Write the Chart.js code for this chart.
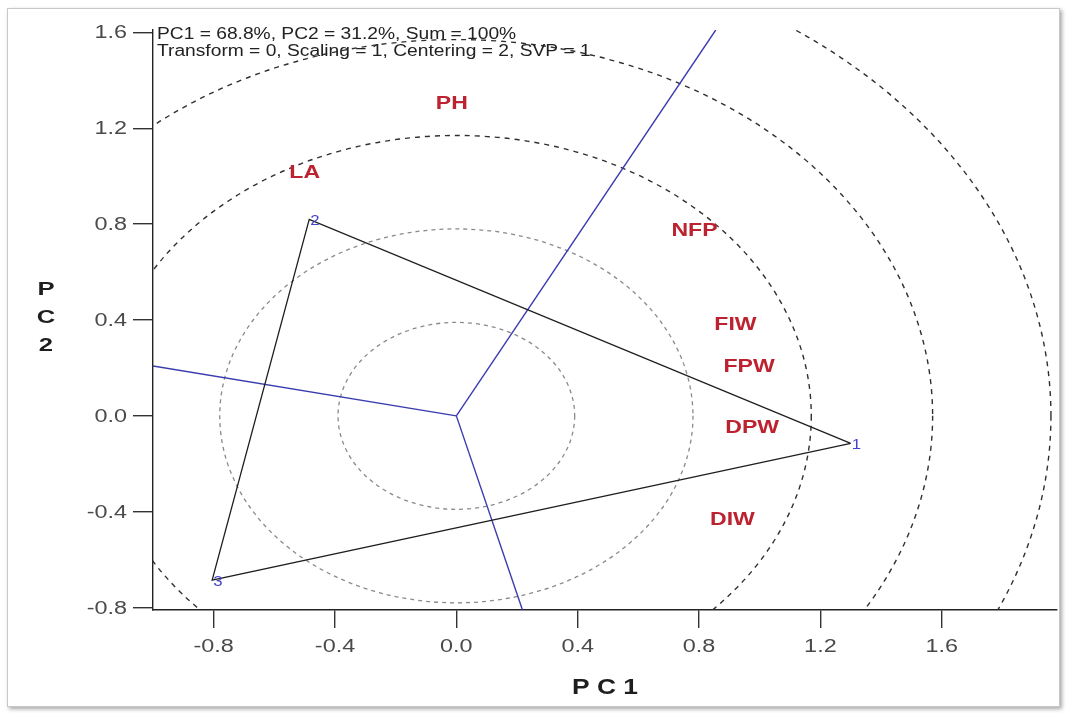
<!DOCTYPE html>
<html>
<head>
<meta charset="utf-8">
<script src="https://cdn.jsdelivr.net/npm/chart.js@4"></script>
<style>
  html, body { margin: 0; padding: 0; background: #fff; }
  #wrap { position: relative; width: 1068px; height: 713px; }
  #frame {
    position: absolute; left: 7px; top: 8px; width: 1051px; height: 697px;
    border: 1px solid #c8c8c8; box-shadow: 2px 2px 4px rgba(0,0,0,0.35);
    pointer-events: none;
  }
</style>
</head>
<body>
<div id="wrap">
  <canvas id="biplot"></canvas>
  <div id="frame"></div>
</div>
<script>
// genotype (polygon vertex) scores
const genotypes = ['1', '2', '3'];
const genoPC1 = [1.30, -0.485, -0.805];
const genoPC2 = [-0.115, 0.82, -0.685];

// trait scores
const traits = ['PH', 'LA', 'NFP', 'FIW', 'FPW', 'DPW', 'DIW'];
const traitPC1 = [-0.015, -0.50, 0.785, 0.92, 0.965, 0.975, 0.91];
const traitPC2 = [1.30, 1.015, 0.77, 0.38, 0.205, -0.05, -0.435];

// rays from origin, perpendicular to polygon sides (end points)
const rayPC1 = [0.855, -1.0, 0.218];
const rayPC2 = [1.61, 0.208, -0.81];

// concentric circles
const grayRadii = [0.39, 0.78];
const blackRadii = [1.17, 1.57, 1.96];

const xTicks = [-0.8, -0.4, 0.0, 0.4, 0.8, 1.2, 1.6];
const yTicks = [-0.8, -0.4, 0.0, 0.4, 0.8, 1.2, 1.6];

const infoLines = [
  'PC1 = 68.8%, PC2 = 31.2%, Sum = 100%',
  'Transform = 0, Scaling = 1, Centering = 2, SVP = 1'
];

const FONT = 'Arial, "Liberation Sans", sans-serif';

// text drawn wider than normal, like the stretched original picture
function wideText(ctx, s, x, y, sx, align) {
  ctx.save();
  ctx.translate(x, y);
  ctx.scale(sx, 1);
  ctx.textAlign = align;
  ctx.fillText(s, 0, 0);
  ctx.restore();
}

const polygon = genotypes.map((g, i) => ({ x: genoPC1[i], y: genoPC2[i] }));
polygon.push(polygon[0]);

const rayDatasets = rayPC1.map((x, i) => ({
  data: [{ x: 0, y: 0 }, { x: x, y: rayPC2[i] }],
  showLine: true,
  borderColor: '#3b3bb0',
  borderWidth: 1.4,
  pointRadius: 0
}));

// circles, labels, axis titles
const extras = {
  id: 'extras',
  beforeDatasetsDraw(chart) {
    const ctx = chart.ctx;
    const xs = chart.scales.x, ys = chart.scales.y;
    const a = chart.chartArea;
    const cx = xs.getPixelForValue(0), cy = ys.getPixelForValue(0);
    const kx = xs.getPixelForValue(1) - cx;
    const ky = cy - ys.getPixelForValue(1);
    ctx.save();
    ctx.beginPath();
    ctx.rect(a.left, a.top, a.right - a.left, a.bottom - a.top);
    ctx.clip();
    ctx.lineWidth = 1.3;
    ctx.strokeStyle = '#8a8a8a';
    ctx.setLineDash([4, 4]);
    grayRadii.forEach(r => {
      ctx.beginPath();
      ctx.ellipse(cx, cy, r * kx, r * ky, 0, 0, Math.PI * 2);
      ctx.stroke();
    });
    ctx.strokeStyle = '#303030';
    ctx.lineWidth = 1.4;
    ctx.setLineDash([5, 5]);
    blackRadii.forEach(r => {
      ctx.beginPath();
      ctx.ellipse(cx, cy, r * kx, r * ky, 0, 0, Math.PI * 2);
      ctx.stroke();
    });
    ctx.restore();
  },
  afterDatasetsDraw(chart) {
    const ctx = chart.ctx;
    const xs = chart.scales.x, ys = chart.scales.y;
    const a = chart.chartArea;
    ctx.save();
    ctx.textBaseline = 'middle';
    // tick labels
    ctx.fillStyle = '#4a4a4a';
    ctx.font = '18px ' + FONT;
    xTicks.forEach(v => wideText(ctx, v.toFixed(1), xs.getPixelForValue(v), 647, 1.3, 'center'));
    yTicks.forEach(v => {
      const s = v.toFixed(1);
      const w = ctx.measureText(s).width * 1.3;
      wideText(ctx, s, 127 - w, ys.getPixelForValue(v) + 1, 1.3, 'left');
    });
    // trait labels
    ctx.fillStyle = '#bd2230';
    ctx.font = 'bold 18px ' + FONT;
    traits.forEach((t, i) => {
      wideText(ctx, t, xs.getPixelForValue(traitPC1[i]), ys.getPixelForValue(traitPC2[i]), 1.28, 'center');
    });
    // genotype numbers
    ctx.fillStyle = '#4343cc';
    ctx.font = '14px ' + FONT;
    genotypes.forEach((g, i) => {
      wideText(ctx, g, xs.getPixelForValue(genoPC1[i]) + 1, ys.getPixelForValue(genoPC2[i]) + 2, 1.2, 'left');
    });
    // info text
    ctx.fillStyle = '#222';
    ctx.font = '16px ' + FONT;
    infoLines.forEach((s, i) => wideText(ctx, s, a.left + 4, 35 + i * 17, 1.2, 'left'));
    // axis titles
    ctx.fillStyle = '#1e1e1e';
    ctx.font = 'bold 22px ' + FONT;
    wideText(ctx, 'P C 1', (a.left + a.right) / 2, 688, 1.2, 'center');
    ctx.font = 'bold 19px ' + FONT;
    ['P', 'C', '2'].forEach((c, i) => wideText(ctx, c, 46, 290 + i * 28, 1.35, 'center'));
    ctx.restore();
  }
};

new Chart(document.getElementById('biplot'), {
  type: 'scatter',
  data: {
    datasets: [
      {
        data: polygon,
        showLine: true,
        borderColor: '#1e1e1e',
        borderWidth: 1.3,
        pointRadius: 0
      },
      ...rayDatasets
    ]
  },
  options: {
    responsive: true,
    maintainAspectRatio: false,
    animation: false,
    layout: { padding: { left: 0, right: 11, top: 30, bottom: 0 } },
    plugins: { legend: { display: false }, tooltip: { enabled: false } },
    scales: {
      x: {
        type: 'linear',
        min: -1.0,
        max: 1.98,
        afterBuildTicks: s => { s.ticks = xTicks.map(v => ({ value: v })); },
        afterFit: s => { s.height = 103; },
        border: { display: true, color: '#222', width: 1.4 },
        grid: { drawOnChartArea: false, drawTicks: true, tickLength: 18, color: '#333', lineWidth: 1.4 },
        ticks: { display: false }
      },
      y: {
        type: 'linear',
        min: -0.81,
        max: 1.61,
        afterBuildTicks: s => { s.ticks = yTicks.map(v => ({ value: v })); },
        afterFit: s => { s.width = 153; },
        border: { display: true, color: '#222', width: 1.4 },
        grid: { drawOnChartArea: false, drawTicks: true, tickLength: 20, color: '#333', lineWidth: 1.4 },
        ticks: { display: false }
      }
    }
  },
  plugins: [extras]
});
</script>
</body>
</html>
